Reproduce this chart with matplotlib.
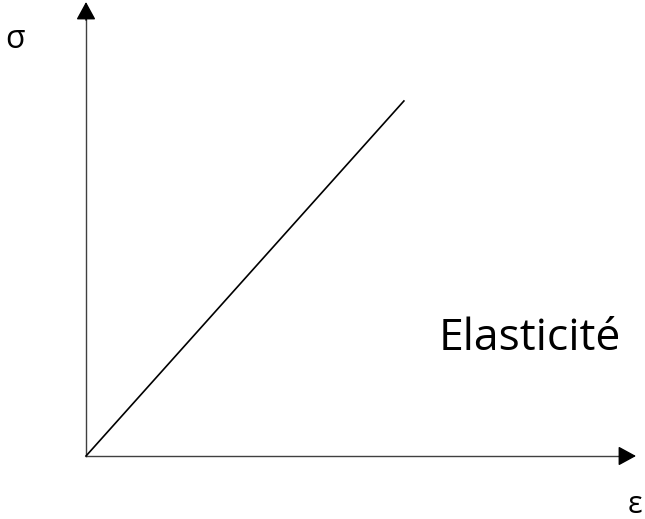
import matplotlib
matplotlib.use("Agg")
import matplotlib.pyplot as plt

W, H = 645, 519

# elastic branch (axes scaled 0..1 along each arrow)
strain = [0.0, 0.578]
stress = [0.0, 0.782]
label_x = "ε"
label_y = "σ"
region = "Elasticité"

fig = plt.figure(figsize=(W / 100, H / 100), dpi=100)
ax = fig.add_axes([86 / W, (H - 456) / H, (636 - 86) / W, (456 - 2) / H])
ax.set_xlim(0, 1)
ax.set_ylim(0, 1)
ax.axis("off")

# axes with arrow heads
ax.plot([0, 0.98], [0, 0], color="#404040", lw=1, clip_on=False)
ax.plot([0, 0], [0, 0.98], color="#404040", lw=1, clip_on=False)
head = dict(arrowstyle="-|>,head_length=1.1,head_width=0.6", color="black",
            lw=1, mutation_scale=10, shrinkA=0, shrinkB=0)
ax.annotate("", xy=(1, 0), xytext=(0.97, 0), arrowprops=head, annotation_clip=False)
ax.annotate("", xy=(0, 1), xytext=(0, 0.96), arrowprops=head, annotation_clip=False)

ax.plot(strain, stress, color="black", lw=1.2, clip_on=False)

font = "Open Sans"
fig.text(15 / W, 1 - 40 / H, label_y, fontsize=23, family=font, ha="center", va="center")
fig.text(635 / W, 1 - 505 / H, label_x, fontsize=22, family=font, ha="center", va="center")
fig.text(530 / W, 1 - 339 / H, region, fontsize=32, family=font, ha="center", va="center")

fig.savefig("out.png", dpi=100)
